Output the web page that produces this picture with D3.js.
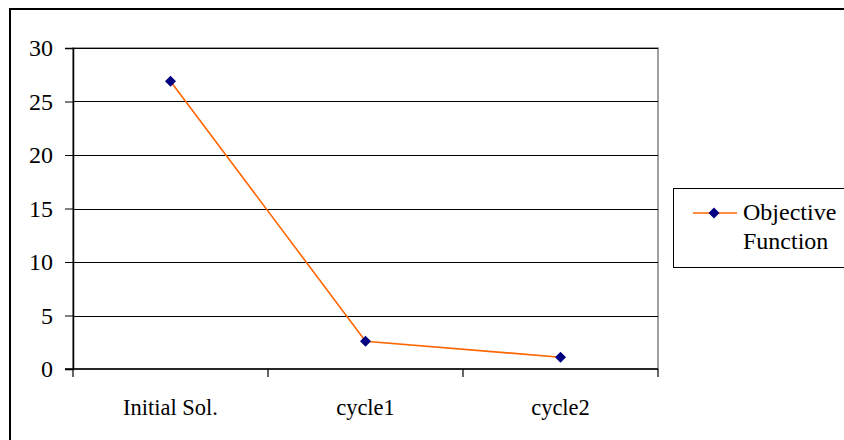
<!DOCTYPE html>
<html>
<head>
<meta charset="utf-8">
<script src="https://cdn.jsdelivr.net/npm/d3@7"></script>
<style>
  body { margin: 0; background: #fff; }
</style>
</head>
<body>
<div id="chart"></div>
<script>
// chart data
var categories = ["Initial Sol.", "cycle1", "cycle2"];
var objectiveValues = [26.9, 2.6, 1.1];
var yTicks = [0, 5, 10, 15, 20, 25, 30];
var seriesName = ["Objective", "Function"];

var W = 844, H = 440;
var plot = { left: 73, top: 48, right: 658, bottom: 369 };
var FONT = "'Liberation Serif'";

var svg = d3.select("#chart").append("svg")
  .attr("width", W).attr("height", H);

// outer frame (runs off the right/bottom edge)
svg.append("rect")
  .attr("x", 10).attr("y", 9)
  .attr("width", W + 20).attr("height", H + 20)
  .attr("fill", "#fff").attr("stroke", "#000").attr("stroke-width", 2);

var x = d3.scaleBand().domain(categories).range([plot.left, plot.right]);
var y = d3.scaleLinear().domain([0, 30]).range([plot.bottom, plot.top]);

// plot area border
svg.append("rect")
  .attr("x", plot.left).attr("y", plot.top)
  .attr("width", plot.right - plot.left).attr("height", plot.bottom - plot.top)
  .attr("fill", "none").attr("stroke", "#808080").attr("stroke-width", 1.5);

// gridlines
svg.append("g").selectAll("line").data(yTicks.filter(function(d) { return d > 0; }))
  .enter().append("line")
  .attr("x1", plot.left).attr("x2", plot.right)
  .attr("y1", function(d) { return Math.round(y(d)) + 0.5; })
  .attr("y2", function(d) { return Math.round(y(d)) + 0.5; })
  .attr("stroke", "#000").attr("stroke-width", 1);

// y axis
var yAxis = svg.append("g")
  .attr("transform", "translate(" + plot.left + ",0)")
  .call(d3.axisLeft(y).tickValues(yTicks).tickSize(8).tickPadding(12).tickFormat(d3.format("d")));
yAxis.select(".domain").attr("stroke", "#000").attr("stroke-width", 1.5);
yAxis.selectAll(".tick line").attr("stroke", "#000");
yAxis.selectAll(".tick text")
  .attr("fill", "#000")
  .style("font-family", FONT).style("font-size", "24px");

// x axis: ticks between categories
var xEdges = categories.map(function(c) { return x(c); }).concat([plot.right]);
svg.append("line")
  .attr("x1", plot.left - 8).attr("x2", plot.right)
  .attr("y1", plot.bottom).attr("y2", plot.bottom)
  .attr("stroke", "#000").attr("stroke-width", 1.5);
svg.append("g").selectAll("line").data(xEdges).enter().append("line")
  .attr("x1", function(d) { return d; }).attr("x2", function(d) { return d; })
  .attr("y1", plot.bottom).attr("y2", plot.bottom + 8)
  .attr("stroke", "#000").attr("stroke-width", 1.2);
svg.append("g").selectAll("text").data(categories).enter().append("text")
  .attr("x", function(d) { return x(d) + x.bandwidth() / 2; })
  .attr("y", 415)
  .attr("text-anchor", "middle")
  .style("font-family", FONT).style("font-size", "22.5px")
  .text(function(d) { return d; });

// series line
var cx = function(d, i) { return x(categories[i]) + x.bandwidth() / 2; };
var line = d3.line()
  .x(function(d, i) { return cx(d, i); })
  .y(function(d) { return y(d); });
svg.append("path")
  .datum(objectiveValues)
  .attr("d", line)
  .attr("fill", "none").attr("stroke", "#FF6600").attr("stroke-width", 1.6);

var diamond = d3.symbol().type(d3.symbolSquare).size(60);
svg.append("g").selectAll("path").data(objectiveValues).enter().append("path")
  .attr("d", diamond)
  .attr("transform", function(d, i) { return "translate(" + cx(d, i) + "," + y(d) + ") rotate(45)"; })
  .attr("fill", "#000080");

// legend
var lg = svg.append("g");
lg.append("rect")
  .attr("x", 673.5).attr("y", 188.5)
  .attr("width", 200).attr("height", 79)
  .attr("fill", "#fff").attr("stroke", "#000").attr("stroke-width", 1);
lg.append("line")
  .attr("x1", 693).attr("x2", 737).attr("y1", 213).attr("y2", 213)
  .attr("stroke", "#FF6600").attr("stroke-width", 1.6);
lg.append("path")
  .attr("d", diamond)
  .attr("transform", "translate(714,213) rotate(45)")
  .attr("fill", "#000080");
lg.selectAll("text").data(seriesName).enter().append("text")
  .attr("x", 743)
  .attr("y", function(d, i) { return 220 + i * 29; })
  .style("font-family", FONT).style("font-size", "24px")
  .text(function(d) { return d; });
</script>
</body>
</html>
